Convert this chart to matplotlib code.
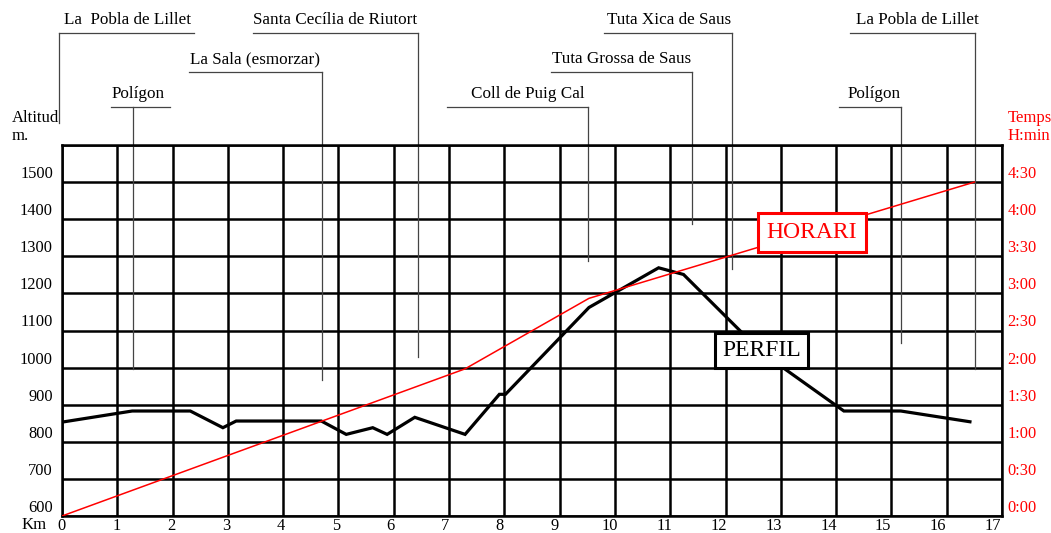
import matplotlib
matplotlib.use("Agg")
import matplotlib.pyplot as plt
import matplotlib.transforms as mtransforms

plt.rcParams['font.family'] = ['Liberation Serif', 'DejaVu Serif']

# ---- data ----
profile_km = [0.04, 1.27, 2.32, 2.91, 3.15, 4.69, 5.14, 5.62, 5.88, 6.38, 7.29, 7.91, 8.02,
              9.53, 10.79, 11.24, 12.67, 14.14, 15.17, 16.42]
profile_alt = [854, 883, 883, 838, 856, 856, 820, 838, 820, 866, 820, 928, 928,
               1162, 1269, 1251, 1039, 883, 883, 854]

time_km = [0, 7.29, 9.53, 16.5]
time_min = [0, 119, 176, 270]

km_ticks = list(range(0, 18))
alt_ticks = list(range(600, 1601, 100))
alt_labels = [str(a) for a in alt_ticks[:-1]] + [""]
min_ticks = list(range(0, 301, 30))
min_labels = ["%d:%02d" % (m // 60, m % 60) for m in min_ticks[:-1]] + [""]

# waypoints: name, leader km, leader bottom altitude (None -> above axes)
wp_names = ["La  Pobla de Lillet", "Santa Cecília de Riutort", "La Sala (esmorzar)", "Polígon",
            "Coll de Puig Cal", "Tuta Grossa de Saus", "Tuta Xica de Saus", "Polígon",
            "La Pobla de Lillet"]
wp_km = [-0.06, 6.43, 4.71, 1.29, 9.52, 11.40, 12.11, 15.17, 16.51]
wp_alt = [None, 1029, 967, 996, 1287, 1387, 1266, 1066, 996]

# ---- layout (not data) ----
wp_row = [0, 0, 1, 2, 2, 1, 0, 2, 0]
wp_ul = [(-0.06, 2.39), (3.46, 6.43), (2.30, 4.71), (0.89, 1.95), (6.97, 9.52),
         (8.85, 11.40), (9.81, 12.11), (14.06, 15.17), (14.26, 16.51)]
wp_tx = [1.19, 4.94, 3.49, 1.38, 8.43, 10.12, 10.97, 14.68, 15.47]
row_line_y = [1.302, 1.197, 1.102]
row_text_y = [1.325, 1.220, 1.126]

W, H = 1051, 533
fig = plt.figure(figsize=(W / 100, H / 100), dpi=100)
ax = fig.add_axes([62 / W, 17 / H, 940 / W, 371 / H])
ax.set_xlim(0, 17)
ax.set_ylim(600, 1600)
ax.set_xticks(km_ticks)
ax.set_xticklabels([str(k) for k in km_ticks])
ax.set_yticks(alt_ticks)
ax.set_yticklabels(alt_labels)
ax.grid(True, color='black', lw=1.8)
ax.set_axisbelow(True)
for s in ax.spines.values():
    s.set_linewidth(1.8)
ax.tick_params(axis='both', length=0, labelsize=11.8)
ax.tick_params(axis='x', pad=1.5)
ax.tick_params(axis='y', pad=6.5)

ax.plot(profile_km, profile_alt, color='black', lw=2.3, zorder=3, solid_joinstyle='miter')

ax2 = ax.twinx()
ax2.set_ylim(0, 300)
ax2.set_yticks(min_ticks)
ax2.set_yticklabels(min_labels)
ax2.tick_params(axis='y', length=0, labelsize=11.8, colors='red', pad=4)
for s in ax2.spines.values():
    s.set_visible(False)
ax2.plot(time_km, time_min, color='red', lw=1.1, zorder=2)

# shift y tick labels up
off = mtransforms.ScaledTranslation(0, 0.10, fig.dpi_scale_trans)
for lbl in ax.get_yticklabels() + ax2.get_yticklabels():
    lbl.set_transform(lbl.get_transform() + off)
# x tick labels drift slightly left in the original
for i, lbl in enumerate(ax.get_xticklabels()):
    lbl.set_transform(lbl.get_transform() +
                      mtransforms.ScaledTranslation(-0.0055 * i, 0, fig.dpi_scale_trans))

# waypoint labels and leaders
bt = mtransforms.blended_transform_factory(ax.transData, ax.transAxes)
for name, k, a, r, ul, tx in zip(wp_names, wp_km, wp_alt, wp_row, wp_ul, wp_tx):
    yl = row_line_y[r]
    yb = 1.059 if a is None else (a - 600) / 1000
    ax.plot([k, k], [yl, yb], transform=bt, color='#444444', lw=0.9, clip_on=False, zorder=1)
    ax.plot(list(ul), [yl, yl], transform=bt, color='#444444', lw=0.9, clip_on=False)
    ax.text(tx, row_text_y[r], name, transform=bt, ha='center', va='baseline', fontsize=12.3)

# boxes
ax2.text(13.56, 229.6, "HORARI", color='red', fontsize=17, ha='center', va='center', zorder=10,
         bbox=dict(boxstyle='square,pad=0.38', fc='white', ec='red', lw=2.2))
ax2.text(12.65, 1045, "PERFIL", color='black', fontsize=17, ha='center', va='center', zorder=10,
         transform=ax.transData,
         bbox=dict(boxstyle='square,pad=0.3', fc='white', ec='black', lw=2.2))

# axis captions
fig.text(12 / W, 1 - 118 / H, "Altitud", fontsize=12, va='center', ha='left')
fig.text(12 / W, 1 - 136 / H, "m.", fontsize=12, va='center', ha='left')
fig.text(1008 / W, 1 - 118 / H, "Temps", fontsize=12, va='center', ha='left', color='red')
fig.text(1008 / W, 1 - 136 / H, "H:min", fontsize=12, va='center', ha='left', color='red')
fig.text(22 / W, 1 - 525 / H, "Km", fontsize=12, va='center', ha='left')

fig.savefig("out.png", dpi=100)
